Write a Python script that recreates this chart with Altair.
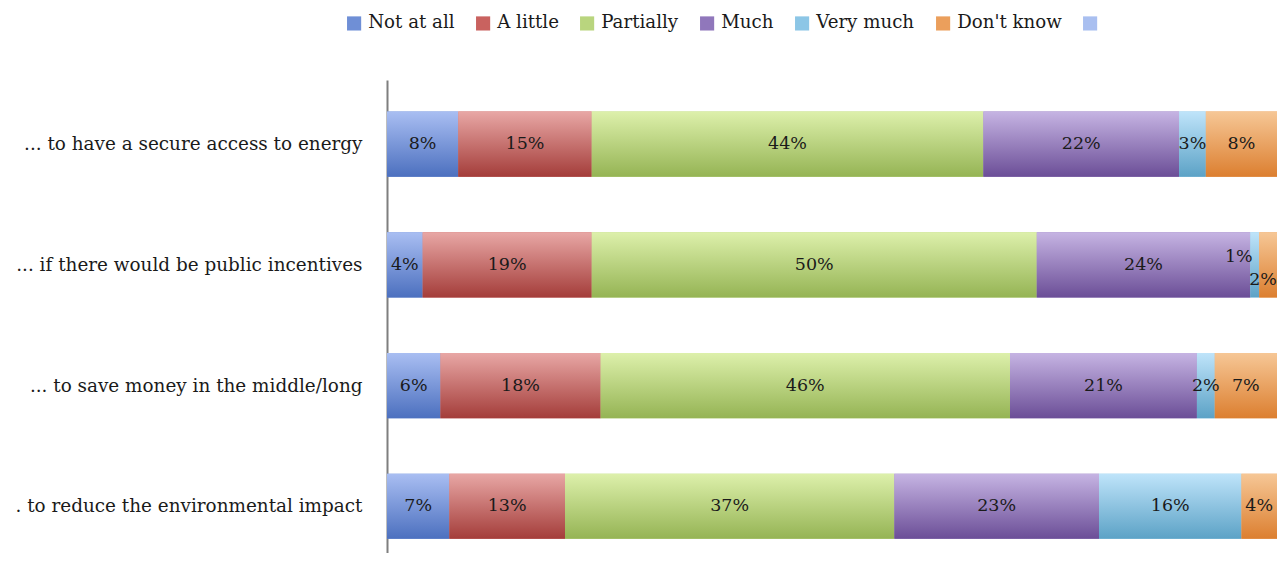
import altair as alt
import pandas as pd

questions = [
    "... to have a secure access to energy",
    "... if there would be public incentives",
    "... to save money in the middle/long",
    ". to reduce the environmental impact",
]
series = ["Not at all", "A little", "Partially", "Much", "Very much", "Don't know"]
values = {
    "Not at all": [8, 4, 6, 7],
    "A little": [15, 19, 18, 13],
    "Partially": [44, 50, 46, 37],
    "Much": [22, 24, 21, 23],
    "Very much": [3, 1, 2, 16],
    "Don't know": [8, 2, 7, 4],
}
legend_names = series + [" "]
legend_colors = ["#6f8fd6", "#c9625f", "#b9d57e", "#9077bb", "#8cc6e6", "#eb9f5c", "#a9bff0"]
grad_top = ["#a9bef2", "#e8a7a5", "#ddf0ab", "#c6b4e3", "#bfe4fa", "#f6c796"]
grad_bot = ["#4c70bf", "#a43d3a", "#95b454", "#6b4e97", "#5ca2c6", "#dc7f30"]

rows = []
for si, s in enumerate(series):
    for qi, q in enumerate(questions):
        rows.append({"question": q, "series": s, "order": si, "value": values[s][qi]})
df = pd.DataFrame(rows)

FONT = "DejaVu Serif"
W, H = 890, 473

base = alt.Chart(df).transform_stack(
    stack="value", groupby=["question"], as_=["x0", "x1"],
    sort=[alt.SortField(field="order", order="ascending")]
).transform_calculate(
    xm="(datum.x0 + datum.x1) / 2", label="datum.value + '%'"
)

xenc = alt.X("x0:Q", scale=alt.Scale(domain=[0, 100]), axis=None)
yenc = alt.Y(
    "question:N", sort=questions, title=None,
    scale=alt.Scale(paddingInner=0.46, paddingOuter=0.189, align=0.69),
    axis=alt.Axis(
        labelFont=FONT, labelFontSize=18.4, labelColor="#1a1a1a", labelPadding=25,
        ticks=False, domain=True, domainColor="#7f7f7f", domainWidth=2,
        labelLimit=400,
    ),
)

legend_layer = base.mark_bar().encode(
    x=xenc, x2="x1:Q", y=yenc,
    color=alt.Color(
        "series:N",
        scale=alt.Scale(domain=legend_names, range=legend_colors),
        legend=alt.Legend(
            title=None, orient="none", direction="horizontal",
            legendX=-42, legendY=-66, symbolType="square", symbolSize=200,
            symbolStrokeWidth=0, labelFont=FONT, labelFontSize=18.2,
            labelColor="#1a1a1a", labelOffset=5, columnPadding=19,
        ),
    ),
)

layers = [legend_layer]
for si, s in enumerate(series):
    grad = alt.Gradient(
        gradient="linear",
        stops=[alt.GradientStop(color=grad_top[si], offset=0),
               alt.GradientStop(color=grad_bot[si], offset=1)],
        x1=0, x2=0, y1=0, y2=1,
    )
    layers.append(
        base.transform_filter(alt.datum.series == s)
        .mark_bar(fill=grad)
        .encode(x=xenc, x2="x1:Q", y=yenc)
    )

special_vm = (alt.datum.question == questions[1]) & (alt.datum.series == "Very much")
special_dk = (alt.datum.question == questions[1]) & (alt.datum.series == "Don't know")

text_kw = dict(font=FONT, fontSize=17.5, color="#1a1a1a", baseline="middle", align="center")
xm = alt.X("xm:Q", scale=alt.Scale(domain=[0, 100]), axis=None)
text_main = base.transform_filter(~(special_vm | special_dk)).mark_text(**text_kw).encode(
    x=xm, y=yenc, text="label:N"
)
text_vm = base.transform_filter(special_vm).mark_text(dx=-16, dy=-8, **text_kw).encode(
    x=xm, y=yenc, text="label:N"
)
text_dk = base.transform_filter(special_dk).mark_text(dx=-5, dy=15, **text_kw).encode(
    x=xm, y=yenc, text="label:N"
)
layers += [text_main, text_vm, text_dk]

chart = alt.layer(*layers).properties(
    width=W, height=H,
    background="white",
    autosize=alt.AutoSizeParams(type="none"),
    padding={"left": 379, "top": 72, "right": 0, "bottom": 0},
).configure_view(stroke=None)

chart.save("out.html", embed_options={"renderer": "svg", "actions": False})
